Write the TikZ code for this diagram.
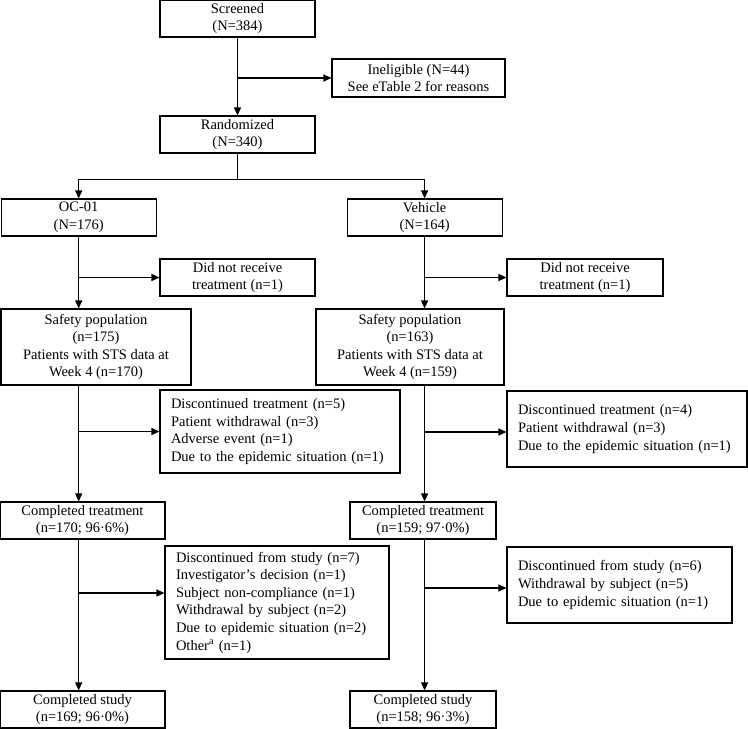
\documentclass[tikz,border=0pt]{standalone}
\usepackage{fontspec}
\setmainfont{Liberation Serif}
\usetikzlibrary{positioning, calc, arrows.meta}

\begin{document}
\begin{tikzpicture}[x=1pt, y=-1pt,
            box/.style={rectangle, draw=black, line width=1.1pt, fill=white, inner sep=0pt, align=center, font=\fontsize{14.5}{17.6}\selectfont},
            listbox/.style={box, align=left, inner xsep=11pt},
            link/.style={draw=black, line width=1.1pt},
            arr/.style={draw=black, line width=1.1pt, -{Triangle[length=8pt, width=7pt]}}
        ]
            \useasboundingbox (0,0) rectangle (748,729);

            % --- Screening ---
            \node[box, minimum width=155pt, minimum height=37pt] (scr) at (237.5,18.5) {Screened\\(N=384)};
            \node[box, minimum width=173pt, minimum height=38pt] (inel) at (418.5,78) {Ineligible (N=44)\\See eTable 2 for reasons};
            \node[box, minimum width=155pt, minimum height=37pt] (rand) at (237.5,134.5) {Randomized\\(N=340)};

            % --- Arms ---
            \node[box, minimum width=155pt, minimum height=37pt] (oc) at (78.7,217.5) {OC-01\\(N=176)};
            \node[box, minimum width=155pt, minimum height=37pt] (veh) at (424.6,217.5) {Vehicle\\(N=164)};

            \node[box, minimum width=155pt, minimum height=37pt] (dnrL) at (237.5,277.5) {Did not receive\\treatment (n=1)};
            \node[box, minimum width=156pt, minimum height=37pt] (dnrR) at (585,277.5) {Did not receive\\treatment (n=1)};

            \node[box, minimum width=190pt, minimum height=76pt] (safL) at (96,347) {Safety population\\(n=175)\\Patients with STS data at\\Week 4 (n=170)};
            \node[box, minimum width=188pt, minimum height=76pt] (safR) at (410,347) {Safety population\\(n=163)\\Patients with STS data at\\Week 4 (n=159)};

            \node[listbox, text width=218pt, minimum height=83pt] (disTL) at (280,431.5) {Discontinued treatment (n=5)\\Patient withdrawal (n=3)\\Adverse event (n=1)\\Due to the epidemic situation (n=1)};
            \node[listbox, text width=218pt, minimum height=76pt] (disTR) at (627,429) {Discontinued treatment (n=4)\\Patient withdrawal (n=3)\\Due to the epidemic situation (n=1)};

            \node[box, minimum width=165pt, minimum height=37pt] (ctL) at (82.5,520.5) {Completed treatment\\(n=170; 96·6\%)};
            \node[box, minimum width=146pt, minimum height=37pt] (ctR) at (423,520.5) {Completed treatment\\(n=159; 97·0\%)};

            \node[listbox, text width=202pt, minimum height=113pt] (disSL) at (277,602.5) {Discontinued from study (n=7)\\Investigator’s decision (n=1)\\Subject non-compliance (n=1)\\Withdrawal by subject (n=2)\\Due to epidemic situation (n=2)\\Other\textsuperscript{a} (n=1)};
            \node[listbox, text width=203pt, minimum height=76pt] (disSR) at (619.5,585) {Discontinued from study (n=6)\\Withdrawal by subject (n=5)\\Due to epidemic situation (n=1)};

            \node[box, minimum width=165pt, minimum height=37pt] (csL) at (82.5,709.5) {Completed study\\(n=169; 96·0\%)};
            \node[box, minimum width=146pt, minimum height=37pt] (csR) at (423,709.5) {Completed study\\(n=158; 96·3\%)};

            % --- Main trunk ---
            \draw[arr] (scr.south) -- (rand.north);
            \draw[arr] (scr.south |- inel.west) -- (inel.west);
            \coordinate (split) at ([yshift=-26pt]rand.south);
            \draw[link] (rand.south) -- (split);
            \draw[arr] (split) -| (oc.north);
            \draw[arr] (split) -| (veh.north);

            % --- OC-01 arm ---
            \draw[arr] (oc.south) -- (oc.south |- safL.north);
            \draw[arr] (oc.south |- dnrL.west) -- (dnrL.west);
            \draw[arr] (oc.south |- safL.south) -- (oc.south |- ctL.north);
            \draw[arr] (oc.south |- disTL.west) -- (disTL.west);
            \coordinate (bSL) at ([yshift=9.5pt]disSL.west);
            \draw[arr] (oc.south |- ctL.south) -- (oc.south |- csL.north);
            \draw[arr] (oc.south |- bSL) -- (bSL);

            % --- Vehicle arm ---
            \draw[arr] (veh.south) -- (veh.south |- safR.north);
            \draw[arr] (veh.south |- dnrR.west) -- (dnrR.west);
            \draw[arr] (veh.south |- safR.south) -- (veh.south |- ctR.north);
            \coordinate (bTR) at ([yshift=-3pt]disTR.west);
            \draw[arr] (veh.south |- bTR) -- (bTR);
            \coordinate (bSR) at ([yshift=-3pt]disSR.west);
            \draw[arr] (veh.south |- ctR.south) -- (veh.south |- csR.north);
            \draw[arr] (veh.south |- bSR) -- (bSR);
        \end{tikzpicture}
\end{document}
